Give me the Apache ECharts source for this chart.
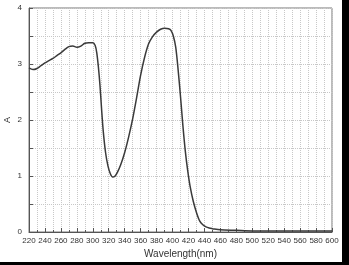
<!DOCTYPE html>
<html><head><meta charset="utf-8">
<script src="https://cdn.jsdelivr.net/npm/echarts@6/dist/echarts.min.js"></script>
<style>html,body{margin:0;padding:0;background:#fff;}#c{width:349px;height:265px;}</style>
</head><body><div id="c"></div>
<script>
const wavelengths = [220,225,230,235,240,245,250,255,260,265,270,275,280,285,290,295,300,303,305,307,309,311,313,316,319,322,325,328,331,335,340,345,350,355,360,365,370,375,380,385,390,395,398,401,404,407,410,413,416,419,422,426,430,434,438,442,446,450,460,480,500,550,600];
const absorbance = [2.93,2.90,2.92,2.97,3.02,3.06,3.10,3.15,3.20,3.26,3.31,3.32,3.30,3.32,3.37,3.38,3.38,3.33,3.20,2.95,2.62,2.20,1.82,1.42,1.18,1.04,0.98,1.00,1.07,1.20,1.42,1.70,2.02,2.40,2.80,3.12,3.36,3.49,3.57,3.62,3.64,3.63,3.60,3.50,3.30,2.90,2.42,1.90,1.45,1.10,0.82,0.55,0.35,0.20,0.13,0.09,0.07,0.06,0.04,0.03,0.02,0.02,0.02];
const xTickStep = 20;
const yTickStep = 1;

const chart = echarts.init(document.getElementById('c'), null, {renderer:'canvas'});
const font = "'Liberation Sans', Arial, sans-serif";
chart.setOption({
  backgroundColor:'#fff',
  animation:false,
  grid:{left:29, top:8, right:17, bottom:33, show:true, borderColor:'#777', borderWidth:1, backgroundColor:'transparent', containLabel:false, outerBoundsMode:'none'},
  graphic:[
    {type:'rect', shape:{x:342, y:0, width:7, height:265}, style:{fill:'#000'}},
    {type:'rect', shape:{x:0, y:262, width:349, height:3}, style:{fill:'#000'}}
  ],
  xAxis:{
    type:'value', min:220, max:600, interval:xTickStep,
    name:'Wavelength(nm)', nameLocation:'middle', nameGap:17, nameMoveOverlap:false,
    nameTextStyle:{fontFamily:font, fontSize:10, color:'#333'},
    axisLine:{lineStyle:{color:'#555', width:1}},
    axisTick:{inside:true, length:4, lineStyle:{color:'#555'}},
    minorTick:{show:true, splitNumber:2, length:2, lineStyle:{color:'#555'}},
    axisLabel:{fontFamily:font, fontSize:8, color:'#333', margin:5},
    splitLine:{show:true, lineStyle:{color:'#c8c8c8', type:'dotted', width:1}},
    minorSplitLine:{show:true, lineStyle:{color:'#c8c8c8', type:'dotted', width:1}}
  },
  yAxis:{
    type:'value', min:0, max:4, interval:yTickStep,
    name:'A', nameLocation:'middle', nameGap:17, nameRotate:90, nameMoveOverlap:false,
    nameTextStyle:{fontFamily:font, fontSize:9, color:'#333'},
    axisLine:{show:true, lineStyle:{color:'#555', width:1}},
    axisTick:{show:true, inside:true, length:4, lineStyle:{color:'#555'}},
    minorTick:{show:true, splitNumber:2, length:4, lineStyle:{color:'#555'}},
    axisLabel:{fontFamily:font, fontSize:8, color:'#333', margin:7},
    splitLine:{show:true, lineStyle:{color:'#c8c8c8', type:'dotted', width:1}},
    minorSplitLine:{show:true, lineStyle:{color:'#c8c8c8', type:'dotted', width:1}}
  },
  series:[{
    type:'line', data:wavelengths.map((w,i)=>[w, absorbance[i]]),
    showSymbol:false, smooth:0.3,
    lineStyle:{color:'#3a3a3a', width:1.5}
  }]
});
</script></body></html>
